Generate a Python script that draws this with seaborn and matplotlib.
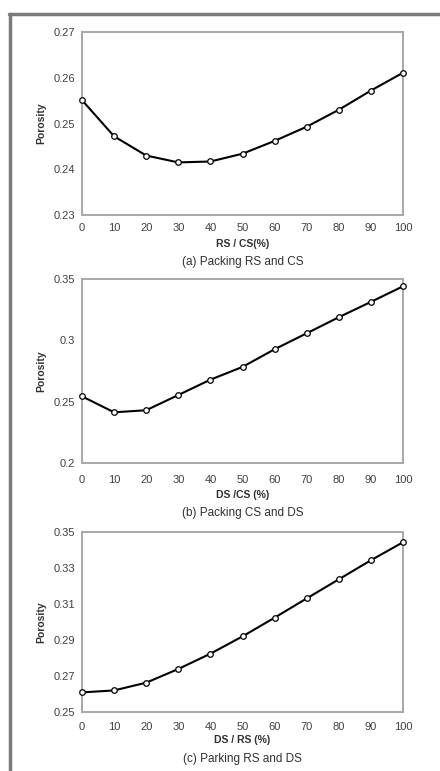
import numpy as np
import pandas as pd
import matplotlib
matplotlib.use('Agg')
import matplotlib.pyplot as plt
import seaborn as sns
from matplotlib.lines import Line2D

# ---------- data ----------
ratio = [0, 10, 20, 30, 40, 50, 60, 70, 80, 90, 100]

por_rs_cs = [0.2551, 0.2472, 0.2430, 0.2415, 0.2417, 0.2434,
             0.2462, 0.2493, 0.2530, 0.2572, 0.2611]
por_cs_ds = [0.2543, 0.2413, 0.2430, 0.2554, 0.2679, 0.2783,
             0.2927, 0.3057, 0.3188, 0.3313, 0.3440]
por_rs_ds = [0.2609, 0.2620, 0.2663, 0.2739, 0.2824, 0.2920,
             0.3024, 0.3131, 0.3237, 0.3343, 0.3443]

panels = [
    (por_rs_cs, 'RS / CS(%)', '(a) Packing RS and CS', [0.23, 0.24, 0.25, 0.26, 0.27]),
    (por_cs_ds, 'DS /CS (%)', '(b) Packing CS and DS', [0.2, 0.25, 0.3, 0.35]),
    (por_rs_ds, 'DS / RS (%)', '(c) Parking RS and DS', [0.25, 0.27, 0.29, 0.31, 0.33, 0.35]),
]

sns.set_style('white')
plt.rcParams['font.family'] = ['Liberation Sans', 'DejaVu Sans']

fig = plt.figure(figsize=(4.4, 7.71), dpi=100)

# ---------- layout: axes rect, x tick pad, xlabel pad, caption offset (px) ----------
rects = [
    [0.1864, 0.7211, 0.7295, 0.2374],
    [0.1864, 0.3995, 0.7295, 0.2387],
    [0.1864, 0.0765, 0.7295, 0.2335],
]
xpads = [6, 8.5, 7]
lpads = [4, 4, 2.5]
cap_off = [47, 50, 47]

for (vals, xlab, cap, yt), rect, xp, lp, co in zip(panels, rects, xpads, lpads, cap_off):
    ax = fig.add_axes(rect)
    df = pd.DataFrame({'x': ratio, 'y': vals})
    sns.lineplot(data=df, x='x', y='y', ax=ax, color='black', lw=1.5,
                 marker='o', markersize=4, markerfacecolor='white',
                 markeredgecolor='black', markeredgewidth=0.9, clip_on=False,
                 zorder=5)
    ax.set_xlim(0, 100)
    ax.set_ylim(yt[0], yt[-1])
    ax.set_xticks(ratio)
    ax.set_yticks(yt)
    ax.set_yticklabels([f'{t:g}' for t in yt])
    for s in ax.spines.values():
        s.set_color('#a8a8a8')
        s.set_linewidth(1.4)
    ax.tick_params(axis='both', labelsize=8, colors='#a8a8a8',
                   labelcolor='#404040', direction='in', length=2, width=0.8)
    ax.tick_params(axis='x', pad=xp)
    ax.tick_params(axis='y', pad=5, length=0)
    ax.set_xlabel(xlab, fontsize=7.5, fontweight='bold', color='#303030', labelpad=lp)
    ax.set_ylabel('Porosity', fontsize=7.5, fontweight='bold', color='#303030', labelpad=5)
    h_px = rect[3] * 771
    ax.text(0.5, -co / h_px, cap, transform=ax.transAxes, ha='center', va='center',
            fontsize=8.5, color='#303030')

# outer gray frame (left and top)
fig.add_artist(Line2D([0.022, 0.022], [0.0, 0.982], transform=fig.transFigure,
                      color='#7a7a7a', lw=2.5))
fig.add_artist(Line2D([0.021, 1.0], [0.982, 0.982], transform=fig.transFigure,
                      color='#7a7a7a', lw=2.5))

fig.savefig('out.png', dpi=100)
